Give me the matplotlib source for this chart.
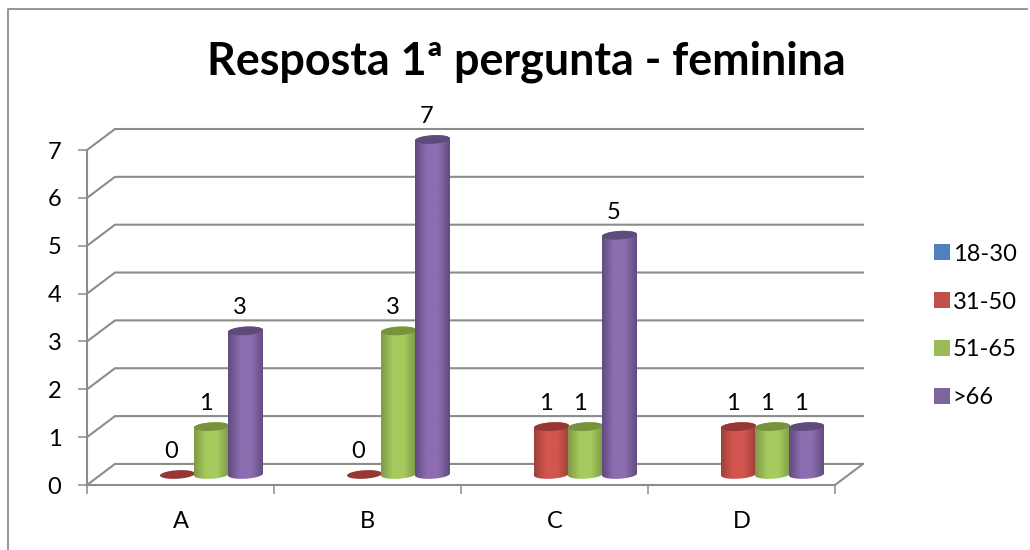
import numpy as np
import matplotlib
matplotlib.use("Agg")
import matplotlib.pyplot as plt
from matplotlib.colors import LinearSegmentedColormap
from matplotlib.lines import Line2D
from matplotlib.patches import Patch, Polygon

plt.rcParams['font.family'] = ['Lato', 'DejaVu Sans']

categories = ['A', 'B', 'C', 'D']
series_names = ['18-30', '31-50', '51-65', '>66']
s18_30 = [np.nan, np.nan, np.nan, np.nan]
s31_50 = [0, 0, 1, 1]
s51_65 = [1, 3, 1, 1]
s66 = [3, 7, 5, 1]
series = [s18_30, s31_50, s51_65, s66]

legend_colors = ['#4F81BD', '#C0504D', '#9BBB59', '#8064A2']
edge_colors = ['#3a5f8c', '#a03f3c', '#7f9a48', '#614b80']
mid_colors = ['#5a90d0', '#d2564f', '#a6ca5e', '#8c6db0']
cap_colors = ['#376092', '#953735', '#77933C', '#5f4a7c']

W, H = 1030, 550
GRAY = '#8c8c8c'
FS = 17

fig = plt.figure(figsize=(W / 100, H / 100), dpi=100)
# front plane starts at x=87, y=485 px, back wall ends at x=863, y=129 px
ax = fig.add_axes([87 / W, (H - 485) / H, (863 - 87) / W, (485 - 129) / H])

unit_x = (835 - 87) / 4
unit_y = (485 - 151) / 7
dx = 28 / unit_x
dy = 21 / unit_y


def ellipse_pts(cx, cy, w, h, t):
    # slightly tilted ellipse, right side a little higher
    return cx + w / 2 * np.cos(t), cy + h / 2 * np.sin(t) + h * 0.12 * np.cos(t)


# walls and floor
for v in range(0, 8):
    ax.plot([0, dx, 4 + dx], [v, v + dy, v + dy], color=GRAY, lw=1.5, zorder=1,
            solid_joinstyle='miter', clip_on=False)
ax.plot([4, 4 + dx], [0, dy], color=GRAY, lw=1.5, zorder=1, clip_on=False)

bar_w = 35 / unit_x
step = 34 / unit_x
cap_h = 8.5 / unit_y
base = dy / 2

for s, values in enumerate(series):
    cmap = LinearSegmentedColormap.from_list(
        'c', [edge_colors[s], mid_colors[s], mid_colors[s], edge_colors[s]])
    for i, v in enumerate(values):
        if np.isnan(v):
            continue
        cx = i + 0.5 + dx / 2 + (s - 1.5) * step
        z = 2 + s + i * 0.01
        if v > 0:
            t1 = np.linspace(np.pi, 2 * np.pi, 40)
            t2 = np.linspace(0, np.pi, 40)
            xb, yb = ellipse_pts(cx, base, bar_w, cap_h, t1)
            xt, yt = ellipse_pts(cx, base + v, bar_w, cap_h, t2)
            body = Polygon(np.column_stack([np.r_[xb, xt], np.r_[yb, yt]]),
                           transform=ax.transData, fc='none', ec='none')
            ax.add_patch(body)
            im = ax.imshow(np.linspace(0, 1, 64).reshape(1, -1), cmap=cmap, aspect='auto',
                           extent=(cx - bar_w / 2, cx + bar_w / 2, base - cap_h, base + v + cap_h),
                           zorder=z, interpolation='bilinear')
            im.set_clip_path(body)
        t = np.linspace(0, 2 * np.pi, 80)
        xc, yc = ellipse_pts(cx, base + v, bar_w, cap_h, t)
        ax.fill(xc, yc, color=cap_colors[s], lw=0, zorder=z + 0.1)
        ax.annotate(str(v), (cx, base + v), xytext=(-6 * 0.72, 23 * 0.72), textcoords='offset points',
                    ha='center', va='center', fontsize=FS, color='black', zorder=10)

ax.set_xlim(0, 4 + dx)
ax.set_ylim(0, 7 + dy)
ax.patch.set_alpha(0)

for side in ['top', 'right']:
    ax.spines[side].set_visible(False)
ax.spines['left'].set_bounds(0, 7)
ax.spines['bottom'].set_bounds(0, 4)
for side in ['left', 'bottom']:
    ax.spines[side].set_color(GRAY)
    ax.spines[side].set_linewidth(1.5)

ax.set_yticks(range(0, 8))
ax.tick_params(axis='y', length=6.5, width=1.1, color=GRAY, labelsize=FS, pad=12)
ax.set_xticks(np.arange(0, 5), minor=True)
ax.set_xticks(np.arange(4) + 0.5)
ax.set_xticklabels(categories)
ax.tick_params(axis='x', which='major', length=0, labelsize=FS, pad=19)
ax.tick_params(axis='x', which='minor', length=6.5, width=1.1, color=GRAY)

fig.text(526 / W, 1 - 62 / H, 'Resposta 1ª pergunta - feminina', ha='center', va='center',
         fontsize=32.3, fontweight='bold', color='black')

handles = [Patch(fc=c, ec='none') for c in legend_colors]
fig.legend(handles, series_names, loc='center left', bbox_to_anchor=(913 / W, 1 - 326 / H),
           frameon=False, fontsize=FS, labelspacing=1.14, handlelength=0.66, handleheight=0.66,
           handletextpad=0.12)

# outer chart frame
fig.add_artist(Line2D([8 / W, 8 / W, 1027 / W], [0, 1 - 9 / H, 1 - 9 / H], color=GRAY, lw=1.3,
                      transform=fig.transFigure))

fig.savefig('out.png', dpi=100)
